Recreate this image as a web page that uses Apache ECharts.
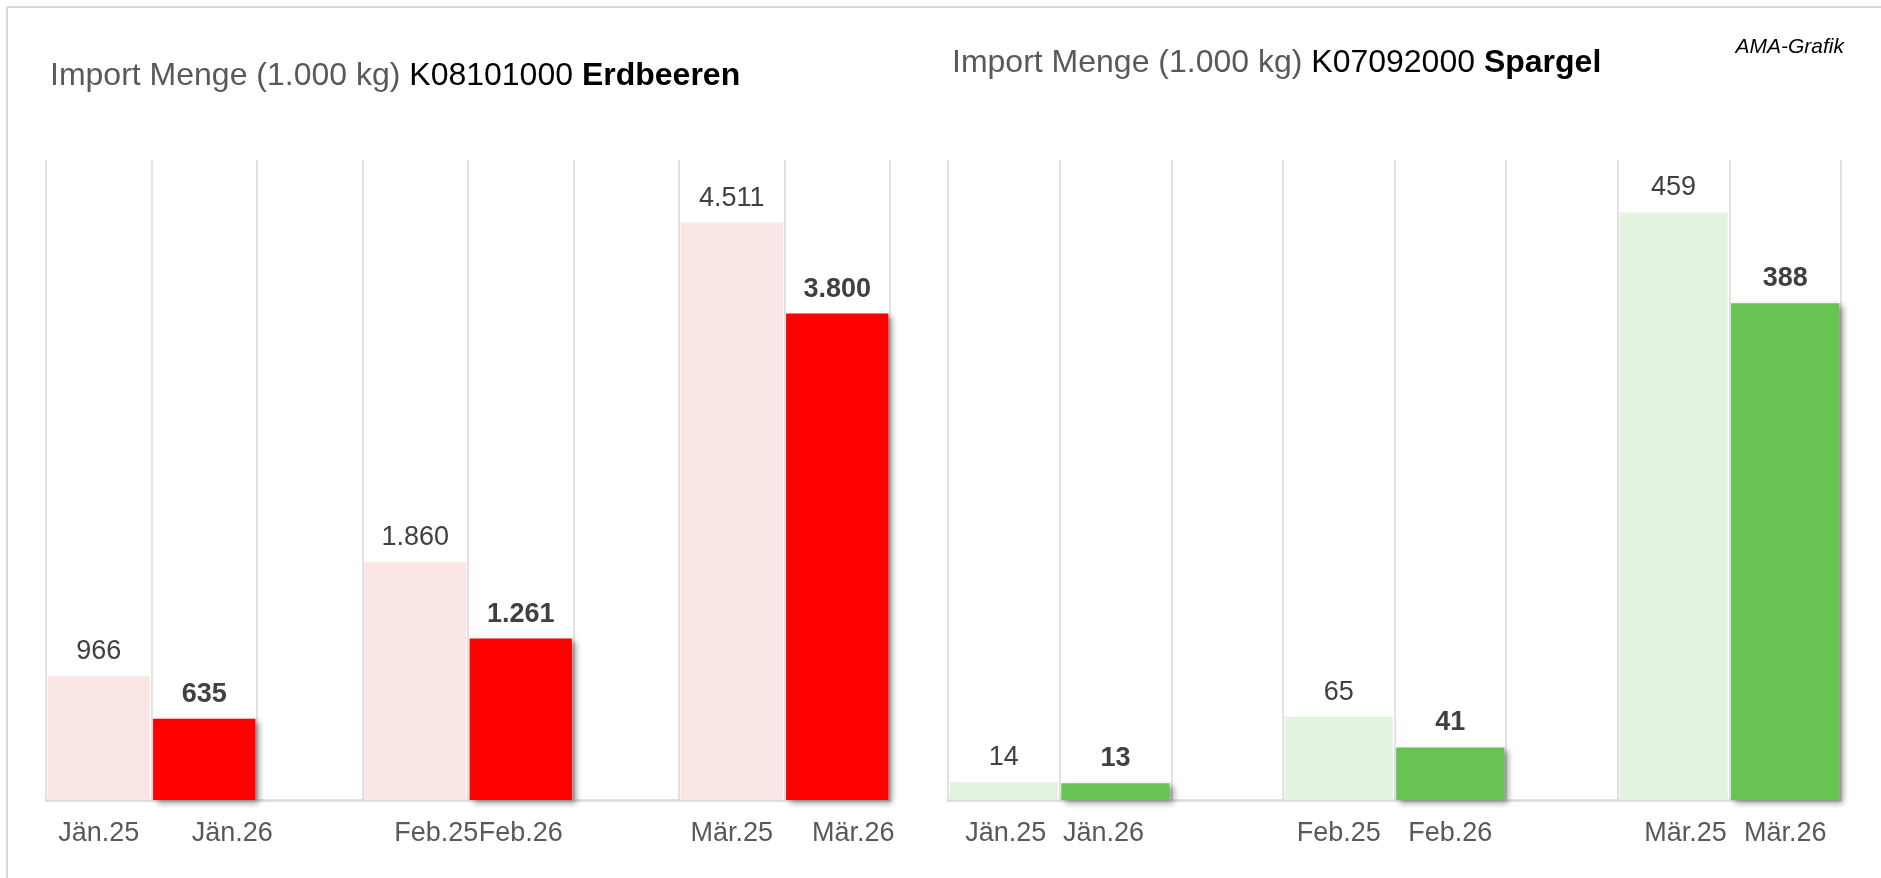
<!DOCTYPE html>
<html>
<head>
<meta charset="utf-8">
<script src="https://cdn.jsdelivr.net/npm/echarts@6/dist/echarts.min.js"></script>
<style>
html,body{margin:0;padding:0;background:#fff;}
#c{width:1881px;height:878px;}
</style>
</head>
<body>
<div id="c"></div>
<script>
// ---- data ----
const categories = ['Jän.25', 'Jän.26', '', 'Feb.25', 'Feb.26', '', 'Mär.25', 'Mär.26'];
const erdbeeren2025 = [966, 1860, 4511];
const erdbeeren2026 = [635, 1261, 3800];
const spargel2025 = [14, 65, 459];
const spargel2026 = [13, 41, 388];
const titleLeft = ['Import Menge (1.000 kg)', 'K08101000', 'Erdbeeren'];
const titleRight = ['Import Menge (1.000 kg)', 'K07092000', 'Spargel'];
const credit = 'AMA-Grafik';

// ---- layout helpers ----
const FONT = 'Arial, "Liberation Sans", sans-serif';
const labelShiftLeft = [0, 28, 0, 21, 0, 0, 0, 16];
const labelShiftRight = [2, -12, 0, 0, 0, 0, 12, 0];

function slots(values, offset) {
  const arr = categories.map(() => '-');
  values.forEach((v, i) => { arr[i * 3 + offset] = v; });
  return arr;
}
function richFor(shifts) {
  const r = {};
  shifts.forEach((d, i) => {
    r['o' + i] = {
      fontSize: 27, color: '#595959', fontFamily: FONT,
      padding: d >= 0 ? [0, 0, 0, 2 * d] : [0, -2 * d, 0, 0]
    };
  });
  return r;
}
function fmtNum(v) {
  return String(v).replace(/\B(?=(\d{3})+(?!\d))/g, '.');
}

const lineColor = '#D9D9D9';
function xAxis(gridIndex, shifts) {
  return {
    type: 'category', gridIndex, data: categories, boundaryGap: true,
    axisLine: { show: true, lineStyle: { color: lineColor, width: 2.5 } },
    axisTick: { show: false },
    splitLine: { show: true, showMinLine: true, showMaxLine: true, lineStyle: { color: lineColor, width: 1.5 } },
    axisLabel: {
      margin: 20, interval: 0,
      formatter: (v, i) => v ? '{o' + i + '|' + v + '}' : '',
      rich: richFor(shifts)
    }
  };
}
function yAxis(gridIndex, max) {
  return { type: 'value', gridIndex, min: 0, max, interval: max / 5, show: false, splitLine: { show: false } };
}
function seriesPair(idx, prev, curr, light, dark) {
  return [
    {
      type: 'bar', xAxisIndex: idx, yAxisIndex: idx, stack: 's' + idx,
      data: slots(prev, 0), barWidth: '97%',
      itemStyle: { color: light },
      label: { show: true, position: 'top', distance: 11, fontSize: 27, color: '#404040', fontFamily: FONT,
               formatter: p => fmtNum(p.value) }
    },
    {
      type: 'bar', xAxisIndex: idx, yAxisIndex: idx, stack: 's' + idx,
      data: slots(curr, 1), barWidth: '97%',
      itemStyle: { color: dark, shadowBlur: 6, shadowOffsetX: 4, shadowOffsetY: 3, shadowColor: 'rgba(0,0,0,0.4)' },
      label: { show: true, position: 'top', distance: 11, fontSize: 27, fontWeight: 'bold', color: '#404040', fontFamily: FONT,
               formatter: p => fmtNum(p.value) }
    }
  ];
}

const titleRich = {
  g: { fontSize: 32, color: '#595959', fontWeight: 'normal', fontFamily: FONT },
  k: { fontSize: 32, color: '#000000', fontWeight: 'normal', fontFamily: FONT },
  b: { fontSize: 32, color: '#000000', fontWeight: 'bold', fontFamily: FONT }
};
const titleStyle = { fontSize: 32, fontWeight: 'normal', color: '#595959', fontFamily: FONT, rich: titleRich };

const chart = echarts.init(document.getElementById('c'), null, { renderer: 'canvas' });
chart.setOption({
  backgroundColor: '#ffffff',
  animation: false,
  title: [
    { left: 50, top: 60, padding: 0,
      text: '{g|' + titleLeft[0] + ' }{k|' + titleLeft[1] + ' }{b|' + titleLeft[2] + '}',
      textStyle: titleStyle },
    { left: 952, top: 47, padding: 0,
      text: '{g|' + titleRight[0] + ' }{k|' + titleRight[1] + ' }{b|' + titleRight[2] + '}',
      textStyle: titleStyle }
  ],
  graphic: [
    { type: 'line', shape: { x1: 7, y1: 7, x2: 1881, y2: 7 }, style: { stroke: lineColor, lineWidth: 2 } },
    { type: 'line', shape: { x1: 7, y1: 7, x2: 7, y2: 878 }, style: { stroke: lineColor, lineWidth: 2 } },
    { type: 'text', right: 37, top: 37,
      style: { text: credit, fontSize: 21, fontStyle: 'italic', fill: '#000', fontFamily: FONT } }
  ],
  grid: [
    { left: 46, top: 160, width: 844, height: 640 },
    { left: 948, top: 160, width: 893, height: 640 }
  ],
  xAxis: [xAxis(0, labelShiftLeft), xAxis(1, labelShiftRight)],
  yAxis: [yAxis(0, 5000), yAxis(1, 500)],
  series: [
    ...seriesPair(0, erdbeeren2025, erdbeeren2026, '#FAE7E5', '#FF0000'),
    ...seriesPair(1, spargel2025, spargel2026, '#E3F4E0', '#68C452')
  ]
});
</script>
</body>
</html>
